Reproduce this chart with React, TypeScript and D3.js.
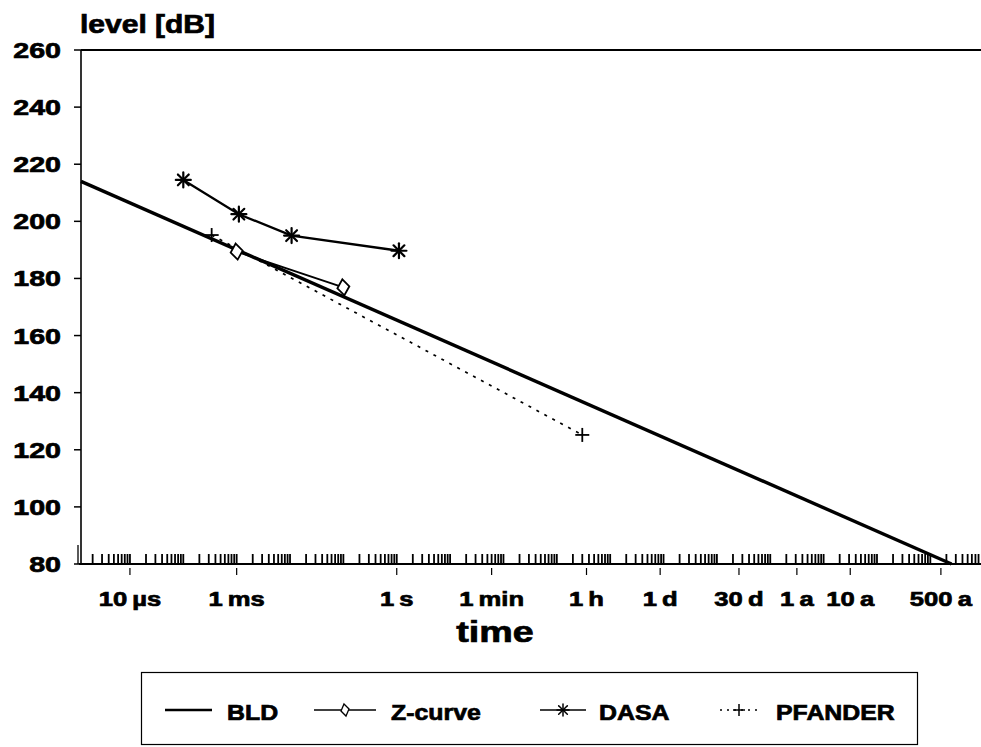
import React from "react";
import * as d3 from "d3";

// ---- data (time in seconds, level in dB) ----
const bldTime = [1.21e-6, 2.5e10];
const bldLevel = [214, 80];

const zTime = [1e-3, 1e-1];
const zLevel = [189.4, 176.9];

const dasaTime = [1e-4, 1.1e-3, 1.07e-2, 1.1];
const dasaLevel = [214.5, 202.5, 195, 189.7];

const pfTime = [3.4e-4, 3000];
const pfLevel = [195.2, 125.2];

const yTicks = [80, 100, 120, 140, 160, 180, 200, 220, 240, 260];
const xTickValues = [1e-5, 1e-3, 1, 60, 3600, 86400, 2592000, 31536000, 315360000, 15768000000];
const xTickLabels = ["10\u2009µs", "1\u2009ms", "1\u2009s", "1\u2009min", "1\u2009h", "1\u2009d", "30\u2009d", "1\u2009a", "10\u2009a", "500\u2009a"];

const legendNames = ["BLD", "Z-curve", "DASA", "PFANDER"];

const FONT = '"Liberation Sans", Arial, Helvetica, sans-serif';

const W = 981;
const H = 747;
const left = 81;
const right = 981;
const top = 50;
const bottom = 564;

const x = d3.scaleLog().domain([1.21e-6, 8.9e10]).range([left, right]);
const y = d3.scaleLinear().domain([80, 260]).range([bottom, top]);

const zip = (t: number[], v: number[]) => t.map((d, i) => [d, v[i]] as [number, number]);
const line = d3
  .line<[number, number]>()
  .x((d) => x(d[0]))
  .y((d) => y(d[1]));

function Asterisk({ cx, cy, r = 7.5, sw = 2.2 }: { cx: number; cy: number; r?: number; sw?: number }) {
  const a = r * 0.72;
  return (
    <g stroke="#000" strokeWidth={sw} strokeLinecap="round">
      <line x1={cx - r} y1={cy} x2={cx + r} y2={cy} />
      <line x1={cx} y1={cy - r} x2={cx} y2={cy + r} />
      <line x1={cx - a} y1={cy - a} x2={cx + a} y2={cy + a} />
      <line x1={cx - a} y1={cy + a} x2={cx + a} y2={cy - a} />
    </g>
  );
}

function Diamond({ cx, cy, w = 6, h = 8, sw = 1.8 }: { cx: number; cy: number; w?: number; h?: number; sw?: number }) {
  return (
    <path
      d={`M${cx - 1},${cy - h} L${cx + w},${cy - 1} L${cx + 1},${cy + h} L${cx - w},${cy + 1} Z`}
      fill="#fff"
      stroke="#000"
      strokeWidth={sw}
    />
  );
}

function Plus({ cx, cy, r = 7, sw = 1.8 }: { cx: number; cy: number; r?: number; sw?: number }) {
  return (
    <g stroke="#000" strokeWidth={sw}>
      <line x1={cx - r} y1={cy} x2={cx + r} y2={cy} />
      <line x1={cx} y1={cy - r} x2={cx} y2={cy + r} />
    </g>
  );
}

function SText({
  x: tx,
  y: ty,
  size,
  sx,
  anchor = "start",
  children,
}: {
  x: number;
  y: number;
  size: number;
  sx: number;
  anchor?: string;
  children: React.ReactNode;
}) {
  return (
    <text
      transform={`translate(${tx},${ty}) scale(${sx},1)`}
      textAnchor={anchor as any}
      fontFamily={FONT}
      fontWeight="bold"
      fontSize={size}
      fill="#000"
      stroke="#000"
      strokeWidth={0.7}
    >
      {children}
    </text>
  );
}

export default function App() {
  // minor log ticks on seconds
  const minor: number[] = [];
  for (let k = -6; k <= 11; k++) {
    for (let m = 1; m <= 9; m++) {
      const t = m * Math.pow(10, k);
      const px = x(t);
      if (px > left + 1 && px <= right) minor.push(t);
    }
  }

  const bld = zip(bldTime, bldLevel);
  const zc = zip(zTime, zLevel);
  const dasa = zip(dasaTime, dasaLevel);
  const pf = zip(pfTime, pfLevel);

  const legendY = 710;
  const legendItems = [
    { x1: 165, x2: 212, tx: 227 },
    { x1: 314, x2: 376, tx: 391 },
    { x1: 540, x2: 586, tx: 599 },
    { x1: 720, x2: 758, tx: 776 },
  ];

  return (
    <div style={{ position: "absolute", left: 0, top: 0 }}>
      <svg width={W} height={H} viewBox={`0 0 ${W} ${H}`} style={{ display: "block", background: "#fff" }}>
        <rect x={0} y={0} width={W} height={H} fill="#fff" />

        {/* y axis title */}
        <SText x={80} y={33} size={25} sx={1.2}>
          level [dB]
        </SText>

        {/* frame */}
        <line x1={left} y1={top} x2={right} y2={top} stroke="#000" strokeWidth={2} />
        <line x1={left} y1={top} x2={left} y2={bottom} stroke="#000" strokeWidth={1.6} />
        <line x1={left - 2} y1={bottom} x2={right} y2={bottom} stroke="#000" strokeWidth={2.2} />

        {/* y ticks & labels */}
        {yTicks.map((v) => (
          <g key={v}>
            <line x1={left - 7} y1={y(v)} x2={left} y2={y(v)} stroke="#000" strokeWidth={1.5} />
            <SText x={61} y={y(v) + 8} size={22} sx={1.3} anchor="end">
              {v}
            </SText>
          </g>
        ))}

        {/* minor ticks */}
        {minor.map((t, i) => (
          <line key={i} x1={x(t)} y1={bottom - 10} x2={x(t)} y2={bottom} stroke="#000" strokeWidth={1.8} />
        ))}
        <line x1={left - 3} y1={bottom - 19} x2={left - 3} y2={bottom} stroke="#000" strokeWidth={1.3} />

        {/* x major ticks & labels */}
        {xTickValues.map((t, i) => (
          <g key={i}>
            <line x1={x(t)} y1={bottom + 4} x2={x(t)} y2={bottom + 11} stroke="#000" strokeWidth={1.2} />
            <SText x={x(t)} y={606} size={21} sx={1.22} anchor="middle">
              {xTickLabels[i]}
            </SText>
          </g>
        ))}

        <SText x={495} y={642} size={29} sx={1.3} anchor="middle">
          time
        </SText>

        {/* series */}
        <path d={line(bld) || ""} fill="none" stroke="#000" strokeWidth={3.4} />
        <path d={line(pf) || ""} fill="none" stroke="#000" strokeWidth={1.7} strokeDasharray="3 6" />
        <path d={line(zc) || ""} fill="none" stroke="#000" strokeWidth={1.9} />
        <path d={line(dasa) || ""} fill="none" stroke="#000" strokeWidth={2.3} />

        {pf.map((d, i) => (
          <Plus key={i} cx={x(d[0])} cy={y(d[1])} />
        ))}
        {zc.map((d, i) => (
          <Diamond key={i} cx={x(d[0])} cy={y(d[1])} />
        ))}
        {dasa.map((d, i) => (
          <Asterisk key={i} cx={x(d[0])} cy={y(d[1])} />
        ))}

        {/* legend */}
        <rect x={141.5} y={672.5} width={776} height={72} fill="none" stroke="#000" strokeWidth={1.2} />
        {legendItems.map((it, i) => (
          <g key={i}>
            <line
              x1={it.x1}
              y1={legendY}
              x2={it.x2}
              y2={legendY}
              stroke="#000"
              strokeWidth={i === 0 ? 2.6 : 1.6}
              strokeDasharray={i === 3 ? "2 5" : undefined}
            />
            {i === 1 && <Diamond cx={(it.x1 + it.x2) / 2} cy={legendY} w={4} h={6} sw={1.3} />}
            {i === 2 && <Asterisk cx={(it.x1 + it.x2) / 2} cy={legendY} r={6} sw={1.5} />}
            {i === 3 && <Plus cx={(it.x1 + it.x2) / 2} cy={legendY} r={6} sw={1.5} />}
            <SText x={it.tx} y={720} size={22} sx={1.13}>
              {legendNames[i]}
            </SText>
          </g>
        ))}
      </svg>
    </div>
  );
}
